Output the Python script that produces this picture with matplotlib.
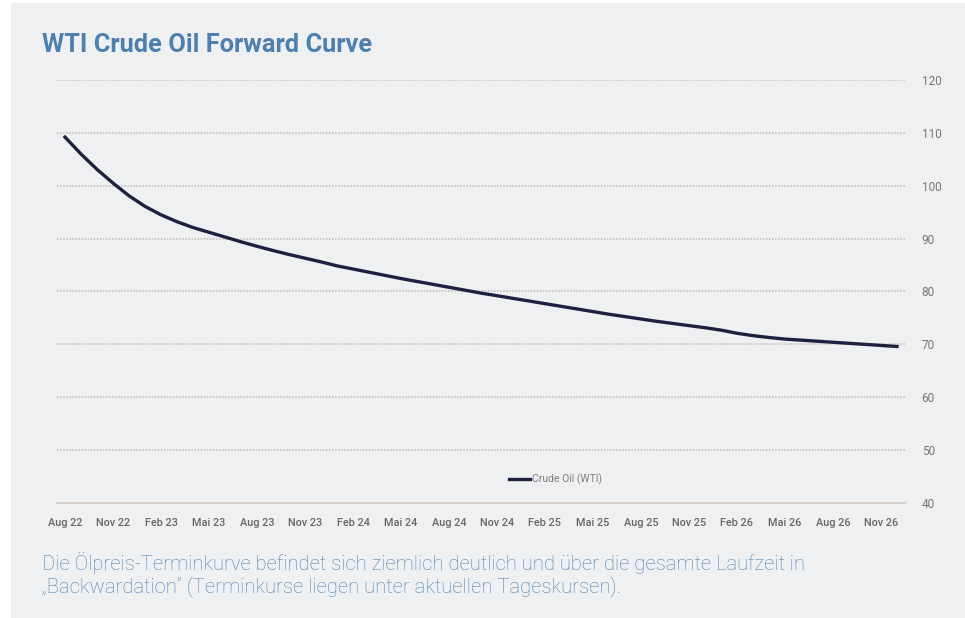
import matplotlib
matplotlib.use("Agg")
import matplotlib.pyplot as plt
from matplotlib.patches import Rectangle
import numpy as np

plt.rcParams["font.family"] = ["Roboto", "DejaVu Sans"]

# WTI forward curve, monthly contracts Aug 22 .. Dec 26
months = ["Aug 22", "Sep 22", "Okt 22", "Nov 22", "Dez 22",
          "Jan 23", "Feb 23", "Mär 23", "Apr 23", "Mai 23", "Jun 23", "Jul 23",
          "Aug 23", "Sep 23", "Okt 23", "Nov 23", "Dez 23",
          "Jan 24", "Feb 24", "Mär 24", "Apr 24", "Mai 24", "Jun 24", "Jul 24",
          "Aug 24", "Sep 24", "Okt 24", "Nov 24", "Dez 24",
          "Jan 25", "Feb 25", "Mär 25", "Apr 25", "Mai 25", "Jun 25", "Jul 25",
          "Aug 25", "Sep 25", "Okt 25", "Nov 25", "Dez 25",
          "Jan 26", "Feb 26", "Mär 26", "Apr 26", "Mai 26", "Jun 26", "Jul 26",
          "Aug 26", "Sep 26", "Okt 26", "Nov 26", "Dez 26"]
wti = [109.2, 106.0, 103.1, 100.5, 98.1, 96.1, 94.5, 93.2, 92.1, 91.2,
       90.3, 89.4, 88.55, 87.75, 87.0, 86.3, 85.6, 84.85, 84.25, 83.65,
       83.05, 82.45, 81.9, 81.35, 80.8, 80.25, 79.7, 79.2, 78.7, 78.2,
       77.7, 77.2, 76.7, 76.2, 75.7, 75.25, 74.8, 74.35, 73.95, 73.55,
       73.15, 72.7, 72.1, 71.65, 71.3, 71.0, 70.8, 70.6, 70.4, 70.2,
       70.0, 69.8, 69.6]
shown = ["Aug 22", "Nov 22", "Feb 23", "Mai 23", "Aug 23", "Nov 23", "Feb 24", "Mai 24", "Aug 24",
         "Nov 24", "Feb 25", "Mai 25", "Aug 25", "Nov 25", "Feb 26", "Mai 26", "Aug 26", "Nov 26"]
yticks = [40, 50, 60, 70, 80, 90, 100, 110, 120]

W, H = 965, 618
fig = plt.figure(figsize=(W / 100, H / 100), dpi=100, facecolor="white")
fig.patches.append(Rectangle((11 / W, 0), 1, 1 - 3 / H, transform=fig.transFigure,
                             facecolor="#eff0f2", edgecolor="none", zorder=-10))

ax = fig.add_axes([57 / W, 1 - 503 / H, 848 / W, 423 / H])
ax.set_facecolor("none")

x = np.arange(len(wti))
ax.plot(x, wti, color="#1e2040", linewidth=2.4, label="Crude Oil (WTI)", zorder=3,
        solid_joinstyle="round")

ax.set_xlim(-0.5, len(wti) - 0.5)
ax.set_ylim(40, 120)
ax.set_yticks(yticks)
for yv in yticks[1:]:
    ax.axhline(yv, color="#c4b9b3", linestyle=(0, (1, 1)), linewidth=1.1, zorder=1)

idx = [months.index(m) for m in shown]
ax.set_xticks(idx)
ax.set_xticklabels(shown, fontsize=7.8, color="#676767", fontweight="medium")

ax.yaxis.tick_right()
ax.tick_params(axis="y", length=0, pad=12, labelsize=8.5, labelcolor="#777777")
ax.tick_params(axis="x", length=0, pad=11)
for s in ["top", "left", "right"]:
    ax.spines[s].set_visible(False)
ax.spines["bottom"].set_color("#d4cbc6")
ax.spines["bottom"].set_linewidth(1.3)

leg = ax.legend(loc="center", bbox_to_anchor=(0.588, 0.055), frameon=False,
                fontsize=7.5, handlelength=2.0, handletextpad=0.15)
for t in leg.get_texts():
    t.set_color("#808080")

fig.text(42 / W, 1 - 45 / H, "WTI Crude Oil Forward Curve", fontsize=18.3, fontweight="bold",
         color="#4d80ae", va="center", ha="left")
fig.text(42 / W, 1 - 563 / H,
         "Die Ölpreis-Terminkurve befindet sich ziemlich deutlich und über die gesamte Laufzeit in",
         fontsize=14.6, fontweight="light", color="#4a82b4", va="center", ha="left")
fig.text(42 / W, 1 - 587 / H,
         "„Backwardation“ (Terminkurse liegen unter aktuellen Tageskursen).",
         fontsize=14.6, fontweight="light", color="#4a82b4", va="center", ha="left")

fig.savefig("out.png", dpi=100, facecolor="white")
